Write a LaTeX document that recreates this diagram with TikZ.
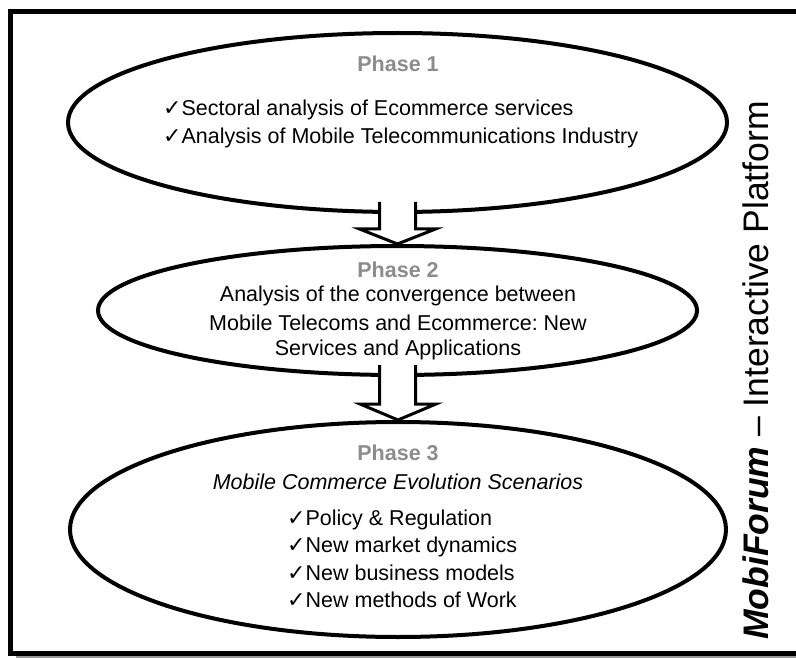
\documentclass[tikz,border=0pt]{standalone}
\usepackage{fontspec}
\setmainfont{Liberation Sans}
\newfontfamily\symfont{DejaVu Sans}
\usetikzlibrary{shapes.geometric}
\definecolor{phasegrey}{RGB}{140,140,140}
\definecolor{shadowgrey}{RGB}{150,150,150}
\newcommand{\tick}{{\symfont\fontsize{22}{22}\selectfont ✓}}
\frenchspacing
\begin{document}
\begin{tikzpicture}[x=1pt,y=-1pt,
  phase/.style={draw, ellipse, line width=4pt, inner sep=0pt},
  phasetitle/.style={text=phasegrey, font=\bfseries\fontsize{21.5}{21.5}\selectfont},
  body/.style={font=\fontsize{21.5}{21.5}\selectfont, inner sep=0pt},
  hollowarrow/.style={draw, line width=3pt, fill=white, line join=miter}]
\useasboundingbox (0,0) rectangle (796,658);
% frame with drop shadow
\fill[shadowgrey] (16,17) rectangle (830,658);
\draw[line width=5pt, fill=white] (10.5,11.5) rectangle (825,653);

% the three phases
\node[phase, minimum width=659pt, minimum height=179pt] (p1) at (397.5,122.5) {};
\node[phase, minimum width=599pt, minimum height=129pt] (p2) at (397.5,310.5) {};
\node[phase, minimum width=656pt, minimum height=215pt] (p3) at (398,529.5) {};

% block arrows between phases
\draw[hollowarrow] ([xshift=-18pt,yshift=12pt]p1.south) |- ([xshift=-38pt,yshift=15pt]p2.north)
  -- (p2.north) -- ([xshift=38pt,yshift=15pt]p2.north) -| ([xshift=18pt,yshift=12pt]p1.south);
\draw[hollowarrow] ([xshift=-18pt,yshift=12pt]p2.south) |- ([xshift=-38pt,yshift=16pt]p3.north)
  -- (p3.north) -- ([xshift=38pt,yshift=16pt]p3.north) -| ([xshift=18pt,yshift=12pt]p2.south);

% phase 1
\node[phasetitle] (t1) at (398,64) {Phase 1};
\node[body, anchor=west] (a1) at (163,110) {\tick Sectoral analysis of Ecommerce services};
\node[body, anchor=west] (a2) at (163,138) {\tick Analysis of Mobile Telecommunications Industry};

% phase 2
\node[phasetitle] (t2) at (398,270) {Phase 2};
\node[body] (b1) at (398,296) {Analysis of the convergence between};
\node[body] (b2) at (398,323) {Mobile Telecoms and Ecommerce: New};
\node[body] (b3) at (398,350) {Services and Applications};

% phase 3
\node[phasetitle] (t3) at (398,453) {Phase 3};
\node[body, font=\itshape\fontsize{21.5}{21.5}\selectfont] (c0) at (398,482) {Mobile Commerce Evolution Scenarios};
\node[body, anchor=west] (c1) at (287,520) {\tick Policy \& Regulation};
\node[body, anchor=west] (c2) at (287,547) {\tick New market dynamics};
\node[body, anchor=west] (c3) at (287,573) {\tick New business models};
\node[body, anchor=west] (c4) at (287,600) {\tick New methods of Work};

% platform label along the right side
\node[rotate=90, anchor=base west, inner sep=0pt, font=\fontsize{35.5}{35.5}\selectfont] (side) at (768,640)
  {\textbf{\textit{MobiForum}} – Interactive Platform};
\end{tikzpicture}
\end{document}
